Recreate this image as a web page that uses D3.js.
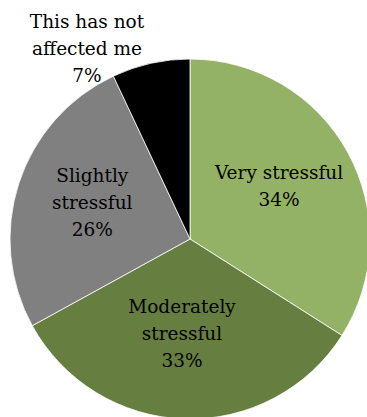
<!DOCTYPE html>
<html><head><meta charset="utf-8">
<script src="https://cdn.jsdelivr.net/npm/d3@7"></script>
<style>html,body{margin:0;padding:0;background:#fff;overflow:hidden}</style>
</head><body>
<svg id="c" width="367" height="417"></svg>
<script>
const categories = ["Very stressful", "Moderately stressful", "Slightly stressful", "This has not affected me"];
const values = [34, 33, 26, 7];
const labelLines = [["Very stressful"], ["Moderately", "stressful"], ["Slightly", "stressful"], ["This has not", "affected me"]];
const colors = ["#93b266", "#667f40", "#808080", "#000000"];

const svg = d3.select("#c");
const cx = 190, cy = 239, r = 180;
const g = svg.append("g").attr("transform", `translate(${cx},${cy})`);
const pie = d3.pie().sort(null).value(d => d)(values);
const arc = d3.arc().innerRadius(0).outerRadius(r);
g.selectAll("path").data(pie).join("path")
  .attr("d", arc)
  .attr("fill", (d, i) => colors[i])
  .attr("stroke", "#fff").attr("stroke-width", 0.8);

const labelArc = d3.arc().innerRadius(r * 0.6).outerRadius(r * 0.6);
const lh = 27;
const nudges = [[-5.6, 5.5], [-4.6, -7], [5, 3.4]];
pie.forEach((d, i) => {
  const lines = labelLines[i].concat([values[i] + "%"]);
  let x, y0;
  if (i < 3) {
    const [x0, y] = labelArc.centroid(d);
    x = x0 + nudges[i][0];
    y0 = y - (lines.length - 1) * lh / 2 + nudges[i][1];
  } else {
    x = 87 - cx; y0 = 28 - cy;
  }
  const t = g.append("text")
    .attr("text-anchor", "middle")
    .attr("font-family", "'DejaVu Serif', serif")
    .attr("font-size", 18.5)
    .attr("fill", "#000");
  lines.forEach((s, k) => {
    t.append("tspan").attr("x", x).attr("y", y0 + k * lh).text(s);
  });
});
</script>
</body></html>
